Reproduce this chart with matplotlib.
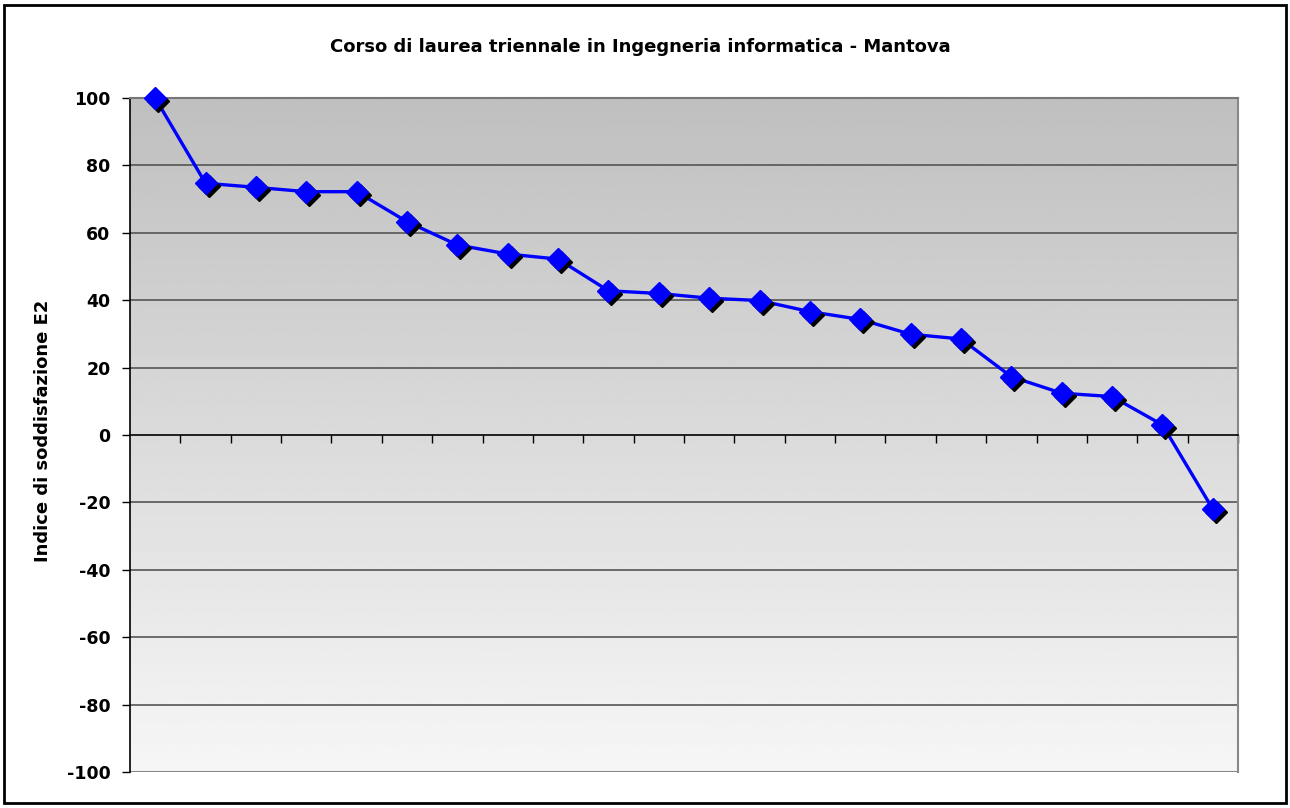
import matplotlib
matplotlib.use("Agg")
import matplotlib.pyplot as plt
import matplotlib.transforms as mtransforms
import numpy as np

# Indice di soddisfazione E2, one value per course (sorted)
valori = [100, 74.7, 73.5, 72.2, 72.2, 63.3, 56.4, 53.7, 52.2, 42.8, 42.0,
          40.6, 39.9, 36.6, 34.3, 29.9, 28.5, 17.3, 12.4, 11.4, 3.0, -22.0]
y_ticks = [-100, -80, -60, -40, -20, 0, 20, 40, 60, 80, 100]
titolo = "Corso di laurea triennale in Ingegneria informatica - Mantova"
etichetta_y = "Indice di soddisfazione E2"

n = len(valori)
x = np.arange(n) + 0.5

fig = plt.figure(figsize=(12.9, 8.08), dpi=100)
W, H = 1290, 808
ax = fig.add_axes([130 / W, (H - 772) / H, (1238 - 130) / W, (772 - 98) / H])

# gradient background of the plot area (dark at top, light at bottom)
grad = np.linspace(0.75, 0.965, 256).reshape(-1, 1)
ax.imshow(grad, extent=[0, n, -100, 100], cmap="gray", vmin=0, vmax=1,
          aspect="auto", zorder=0, origin="upper")
ax.set_xlim(0, n)
ax.set_ylim(-100, 100)

for v in y_ticks:
    if v in (0, -100):
        continue
    ax.axhline(v, color="#555555", lw=1.2, zorder=1)
ax.axhline(-100, color="#888888", lw=1.5, zorder=1)

# shadow of the markers
shadow = mtransforms.offset_copy(ax.transData, fig=fig, x=3, y=-3, units="dots")
ax.plot(x, valori, linestyle="none", marker="D", ms=11, color="black",
        transform=shadow, zorder=3)
ax.plot(x, valori, color="#0000FF", lw=2.4, zorder=2)
ax.plot(x, valori, linestyle="none", marker="D", ms=11, color="#0000FF",
        zorder=4, clip_on=False)

ax.spines["left"].set_color("black")
ax.spines["left"].set_linewidth(1.2)
ax.spines["right"].set_color("#888888")
ax.spines["right"].set_linewidth(1.5)
ax.spines["top"].set_color("#777777")
ax.spines["top"].set_linewidth(1.5)
ax.spines["bottom"].set_position(("data", 0))
ax.spines["bottom"].set_color("black")
ax.spines["bottom"].set_linewidth(1.2)

ax.set_xticks(np.arange(1, n + 1))
ax.set_xticklabels([])
ax.tick_params(axis="x", direction="out", length=6, width=1, color="black")
ax.set_yticks(y_ticks)
ax.set_yticklabels([str(v) for v in y_ticks], fontsize=12.5, fontweight="bold")
ax.tick_params(axis="y", direction="out", length=6, width=1, pad=8)

fig.text(43 / W, 1 - 431 / H, etichetta_y, rotation=90, ha="center",
         va="center", fontsize=13, fontweight="bold")
fig.text(640 / W, 1 - 47 / H, titolo, ha="center", va="center",
         fontsize=13, fontweight="bold")

# outer frame
fig.patches.append(plt.Rectangle((4 / W, 5 / H), 1282 / W, 798 / H,
                                 transform=fig.transFigure, fill=False,
                                 edgecolor="black", lw=2))

fig.savefig("out.png", dpi=100)
